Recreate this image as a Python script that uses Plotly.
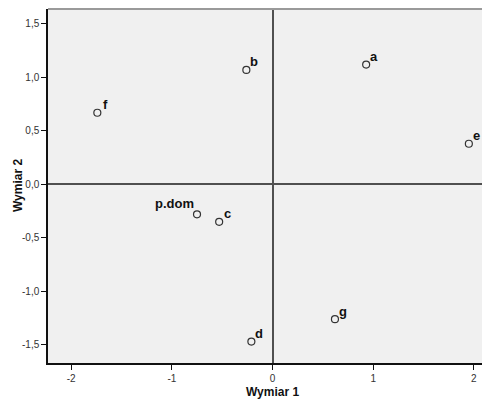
import plotly.graph_objects as go

labels = ["a", "b", "c", "d", "e", "f", "g", "p.dom"]
dim1 = [0.93, -0.26, -0.53, -0.21, 1.95, -1.74, 0.62, -0.75]
dim2 = [1.12, 1.07, -0.35, -1.47, 0.38, 0.67, -1.26, -0.28]

x_ticks = [-2, -1, 0, 1, 2]
x_ticktext = ["-2", "-1", "0", "1", "2"]
y_ticks = [-1.5, -1.0, -0.5, 0.0, 0.5, 1.0, 1.5]
y_ticktext = ["-1,5", "-1,0", "-0,5", "0,0", "0,5", "1,0", "1,5"]

fig = go.Figure()
fig.add_trace(go.Scatter(
    x=dim1, y=dim2, mode="markers",
    marker=dict(symbol="circle-open", size=7, color="#333333", line=dict(width=1.2)),
    showlegend=False, cliponaxis=False, hoverinfo="skip",
))

for lab, xv, yv in zip(labels, dim1, dim2):
    if lab == "p.dom":
        fig.add_annotation(x=xv, y=yv, text="<b>%s</b>" % lab, showarrow=False,
                           xanchor="right", yanchor="middle", xshift=-1, yshift=11,
                           font=dict(family="Arial", size=13, color="#111111"))
    else:
        fig.add_annotation(x=xv, y=yv, text="<b>%s</b>" % lab, showarrow=False,
                           xanchor="center", yanchor="middle", xshift=8, yshift=8,
                           font=dict(family="Arial", size=13, color="#111111"))

# axis titles
fig.add_annotation(xref="x", yref="paper", x=0, y=0, yshift=-29, text="<b>Wymiar 1</b>",
                   showarrow=False, xanchor="center", yanchor="middle",
                   font=dict(family="Arial", size=12, color="#111111"))
fig.add_annotation(xref="paper", yref="paper", x=0, y=0.5, xshift=-30, text="<b>Wymiar 2</b>",
                   showarrow=False, xanchor="center", yanchor="middle", textangle=-90,
                   font=dict(family="Arial", size=12, color="#111111"))

fig.add_shape(type="line", xref="paper", yref="paper", x0=0, x1=1, y0=1, y1=1,
              line=dict(color="#9a9a9a", width=2))

fig.update_layout(
    width=482, height=392,
    margin=dict(l=40, r=0, t=1, b=37, autoexpand=False),
    paper_bgcolor="white", plot_bgcolor="#f0f0f0",
    font=dict(family="Arial", size=10, color="#333333"),
    xaxis=dict(range=[-2.23, 2.16], tickvals=x_ticks, ticktext=x_ticktext,
               showgrid=False, zeroline=True, zerolinecolor="#505050", zerolinewidth=2,
               showline=True, linecolor="#111111", linewidth=1.5, automargin=False,
               ticks="outside", ticklen=5, tickcolor="#111111"),
    yaxis=dict(range=[-1.67, 1.64], tickvals=y_ticks, ticktext=y_ticktext,
               showgrid=False, zeroline=True, zerolinecolor="#505050", zerolinewidth=2,
               showline=True, linecolor="#111111", linewidth=1.5, automargin=False,
               ticks="outside", ticklen=5, tickcolor="#111111"),
)

fig.write_html("out.html")
